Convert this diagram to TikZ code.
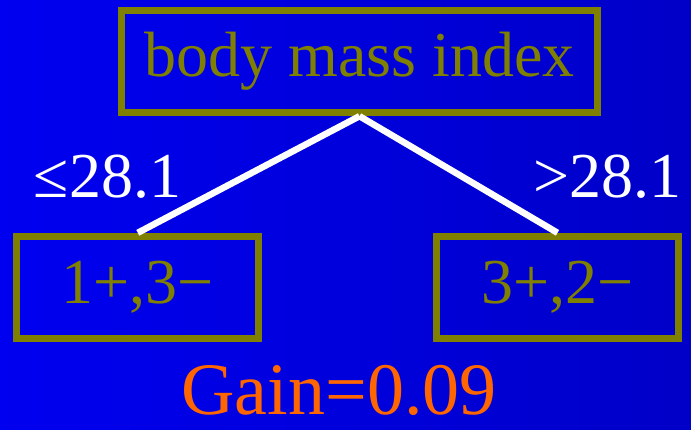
\documentclass[tikz,border=0pt]{standalone}
\usepackage{fontspec}
\setmainfont{Liberation Serif}
\definecolor{bgleft}{RGB}{0,0,240}
\definecolor{bgright}{RGB}{0,0,200}
\definecolor{olivebox}{RGB}{128,128,0}
\definecolor{gainorange}{RGB}{255,102,0}
\tikzset{
  treebox/.style={draw=olivebox, line width=7pt, inner sep=0pt, text=olivebox,
    font=\fontsize{64}{70}\selectfont},
  branch/.style={draw=white, line width=6.5pt},
  cond/.style={text=white, inner sep=0pt, anchor=base, font=\fontsize{64}{70}\selectfont},
}
\begin{document}
\begin{tikzpicture}[x=1pt,y=1pt]
\shade[left color=bgleft, right color=bgright] (0,0) rectangle (691,430);
\useasboundingbox (0,0) rectangle (691,430);
\node[treebox, minimum width=475.6pt, minimum height=102pt] (root) at (359.5,368.3) {body mass index};
\node[treebox, minimum width=242.3pt, minimum height=102.2pt] (left) at (137.8,142.6) {1+,3−};
\node[treebox, minimum width=241.6pt, minimum height=102.2pt] (right) at (557.5,142.6) {3+,2−};
\draw[branch] (root.south) -- (left.north);
\draw[branch] (root.south) -- (right.north);
\node[cond] (lcond) at (107.5,232) {≤28.1};
\node[cond] (rcond) at (607.5,232) {>28.1};
\node[text=gainorange, inner sep=0pt, anchor=base, font=\fontsize{74}{80}\selectfont] (gain) at (339,15) {Gain=0.09};
\end{tikzpicture}
\end{document}
